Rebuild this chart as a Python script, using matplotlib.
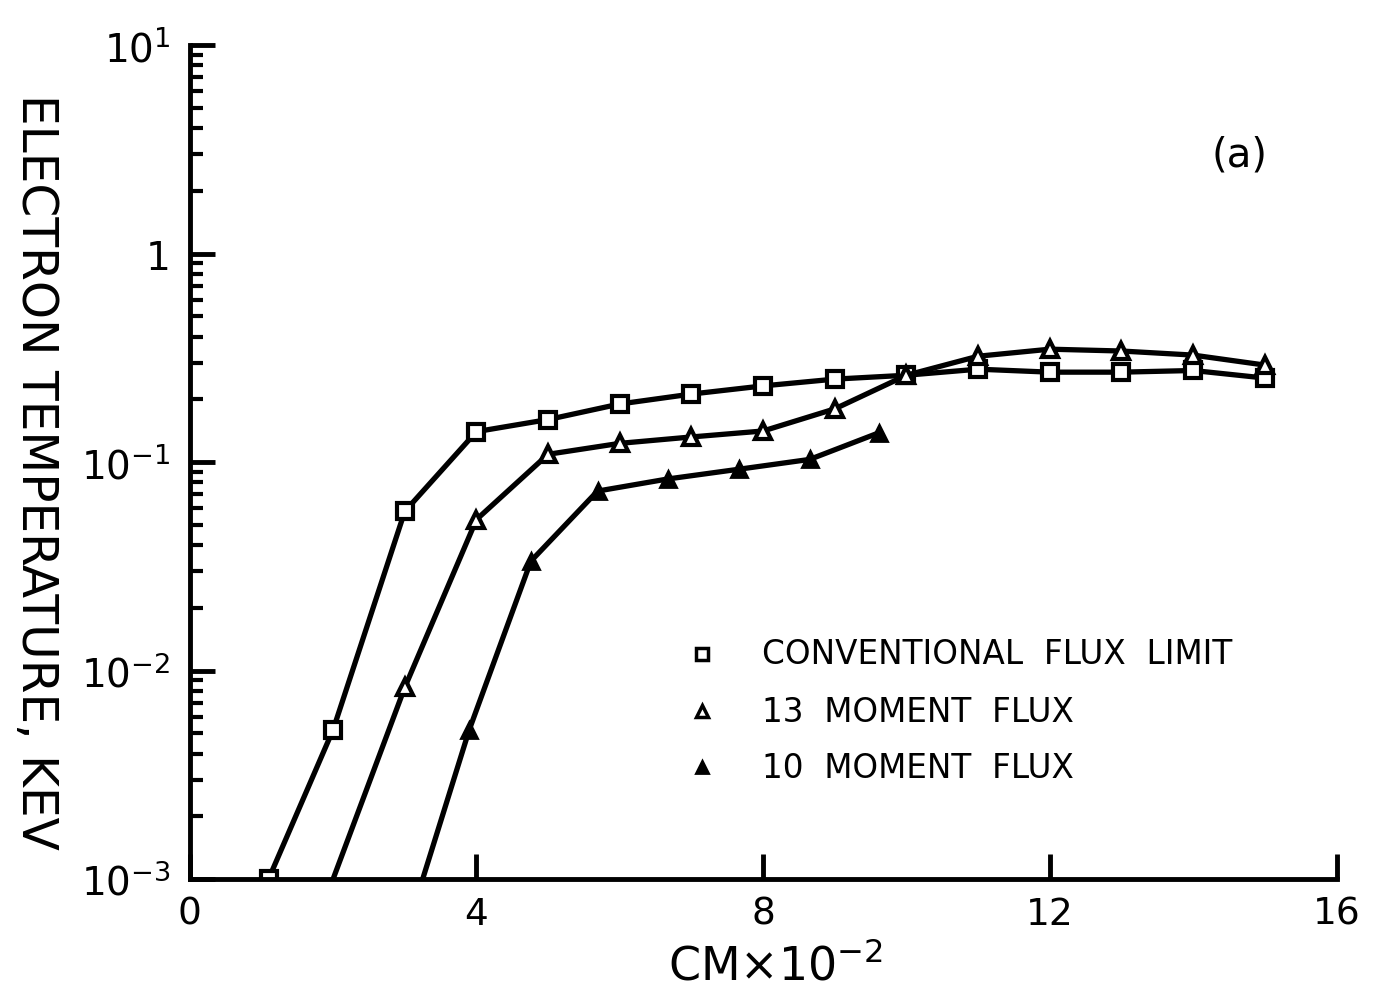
import matplotlib
matplotlib.use('Agg')
import matplotlib.pyplot as plt
import numpy as np

plt.rcParams['font.family'] = ['DejaVu Sans']
plt.rcParams['mathtext.default'] = 'regular'

# Conventional flux limit (open squares)
x_conv = [1.1, 2.0, 3.0, 4.0, 5.0, 6.0, 7.0, 8.0, 9.0, 10.0, 11.0, 12.0, 13.0, 14.0, 15.0]
t_conv = [0.001, 0.0052, 0.058, 0.14, 0.16, 0.19, 0.212, 0.232, 0.25, 0.261, 0.279, 0.27, 0.27, 0.275, 0.253]

# 13 moment flux (open triangles)
x_13 = [2.0, 3.0, 4.0, 5.0, 6.0, 7.0, 8.0, 9.0, 10.0, 11.0, 12.0, 13.0, 14.0, 15.0]
t_13 = [0.001, 0.0083, 0.053, 0.109, 0.123, 0.132, 0.141, 0.18, 0.261, 0.322, 0.348, 0.341, 0.326, 0.292]

# 10 moment flux (filled triangles)
x_10 = [3.25, 3.9, 4.76, 5.69, 6.67, 7.67, 8.65, 9.61]
t_10 = [0.001, 0.0052, 0.0335, 0.0726, 0.083, 0.0925, 0.103, 0.138]

legend_labels = ['CONVENTIONAL FLUX LIMIT', '13 MOMENT FLUX', '10 MOMENT FLUX']
x_ticks = [0, 4, 8, 12, 16]
y_ticks = [1e-3, 1e-2, 1e-1, 1, 10]
y_tick_labels = ['10$^{-3}$', '10$^{-2}$', '10$^{-1}$', '1', '10$^{1}$']

fig = plt.figure(figsize=(13.75, 10.03), dpi=100)
ax = fig.add_axes([0.138, 0.1226, 0.834, 0.8314])

lw = 3.8
ax.plot(x_conv, t_conv, color='black', lw=lw, marker='s', ms=11,
        mfc='white', mec='black', mew=3)
ax.plot(x_13, t_13, color='black', lw=lw, marker='^', ms=11,
        mfc='white', mec='black', mew=3, markevery=list(range(1, len(x_13))))
ax.plot(x_10, t_10, color='black', lw=lw, marker='^', ms=11,
        mfc='black', mec='black', mew=2, markevery=list(range(1, len(x_10))))

ax.set_yscale('log')
ax.set_xlim(0, 16)
ax.set_ylim(1e-3, 10)

for side in ['top', 'right']:
    ax.spines[side].set_visible(False)
for side in ['left', 'bottom']:
    ax.spines[side].set_linewidth(3.5)

ax.set_xticks(x_ticks)
ax.set_xticklabels([str(v) for v in x_ticks], fontsize=27)
ax.set_yticks(y_ticks)
ax.set_yticklabels(y_tick_labels, fontsize=28)
ax.tick_params(axis='x', which='major', direction='in', length=18, width=3.5, pad=12)
ax.tick_params(axis='x', which='minor', bottom=False)
ax.tick_params(axis='y', which='major', direction='in', length=18, width=3.5, pad=14)
ax.tick_params(axis='y', which='minor', direction='in', length=9, width=3)

# legend drawn by hand
leg_y = [0.270, 0.201, 0.134]
leg_styles = [dict(marker='s', mfc='white', mew=2.5),
              dict(marker='^', mfc='white', mew=2.5),
              dict(marker='^', mfc='black', mew=2)]
for yy, lab, st in zip(leg_y, legend_labels, leg_styles):
    ax.plot([0.447], [yy], transform=ax.transAxes, clip_on=False,
            color='black', ms=9, mec='black', ls='none', **st)
    ax.text(0.499, yy, '  '.join(lab.split(' ')), transform=ax.transAxes,
            fontsize=23.5, va='center', ha='left')

ax.text(14.65, 3.0, '(a)', fontsize=29, ha='center', va='center')

fig.text(0.026, 0.529, 'ELECTRON TEMPERATURE, KEV', rotation=-90,
         fontsize=35, ha='center', va='center')
fig.text(0.564, 0.036, 'CM\u00d710$^{-2}$', fontsize=33, ha='center', va='center')

fig.savefig('out.png', dpi=100)
